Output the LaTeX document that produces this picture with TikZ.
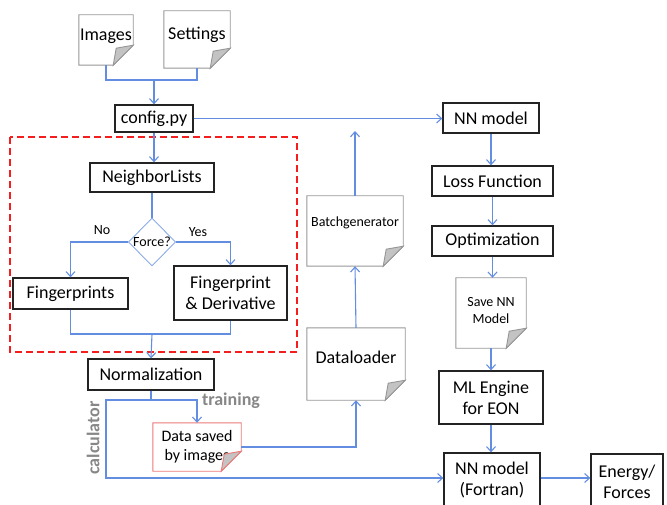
\documentclass[tikz,border=0pt]{standalone}
\usepackage{fontspec}
\setmainfont{Carlito}
\usetikzlibrary{arrows.meta,shapes.geometric}
\definecolor{flowblue}{RGB}{98,141,224}
\definecolor{diamondblue}{RGB}{140,170,232}
\definecolor{boxline}{RGB}{35,35,35}
\definecolor{docgray}{RGB}{150,150,150}
\definecolor{flapgray}{RGB}{195,195,195}
\definecolor{datared}{RGB}{236,120,120}
\definecolor{dashred}{RGB}{245,30,30}
\definecolor{labelgray}{RGB}{135,135,135}
\tikzset{
  box/.style={draw=boxline, line width=1.3pt, fill=white, inner sep=0pt, align=center, font=\fontsize{18}{21}\selectfont},
  doc/.style={inner sep=0pt, align=center, font=\fontsize{18}{21}\selectfont},
  flow/.style={draw=flowblue, line width=1.1pt},
  flowarrow/.style={flow, -{Straight Barb[length=5pt,width=9pt]}},
  graylabel/.style={text=labelgray, font=\fontsize{18}{20}\selectfont\bfseries},
  smalltext/.style={font=\fontsize{14}{17}\selectfont}
}
\def\fold{20pt}
\newcommand\docoutline[2][docgray]{%
  \draw[#1, line width=0.9pt] (#2.north west) -- (#2.north east) -- ([yshift=\fold]#2.south east) -- ([xshift=-\fold]#2.south east) -- (#2.south west) -- cycle;
  \draw[#1, line width=0.9pt, fill=flapgray] ([yshift=\fold]#2.south east) -- ([shift={(-17pt,17pt)}]#2.south east) -- ([xshift=-\fold]#2.south east) -- cycle;}

\begin{document}
\begin{tikzpicture}[x=1pt, y=-1pt]
			%%%%% START %%%%%
			\useasboundingbox (0,0) rectangle (667,505);
			\clip (0,0) rectangle (667,505);
			
			% inputs
			\node[doc, minimum width=54pt, minimum height=50pt, text depth=10pt] (img) at (106,40) {Images};
			\node[doc, minimum width=66pt, minimum height=57pt, text depth=13pt] (set) at (197,39.5) {Settings};
			\docoutline{img}
			\docoutline{set}
			\node[box, minimum width=78pt, minimum height=27pt] (cfg) at (154,118.5) {config.py};
			
			% fingerprinting block
			\draw[dashred, line width=1.9pt, dash pattern=on 7pt off 4pt] (10,137) rectangle (297,352);
			\node[box, minimum width=124pt, minimum height=29pt] (nl) at (152,177.5) {NeighborLists};
			\node[diamond, aspect=1, draw=diamondblue, line width=0.9pt, inner sep=0pt, minimum width=47pt, minimum height=48pt, fill=white, font=\fontsize{14}{16}\selectfont] (force) at (152,242) {Force?};
			\node[box, minimum width=115pt, minimum height=31pt] (fp) at (70.5,293.5) {Fingerprints};
			\node[box, minimum width=113pt, minimum height=54pt] (fpd) at (230.5,293) {Fingerprint\\\& Derivative};
			\node[box, minimum width=126pt, minimum height=31pt] (norm) at (151,374.5) {Normalization};
			
			% data handling
			\node[doc, minimum width=88pt, minimum height=48pt, font=\fontsize{16}{19}\selectfont] (data) at (197,447) {Data saved\\by images};
			\docoutline[datared]{data}
			\node[doc, minimum width=98pt, minimum height=72pt, text depth=13pt] (dl) at (356,364) {Dataloader};
			\docoutline{dl}
			\node[doc, smalltext, minimum width=96pt, minimum height=70pt, text depth=18pt] (bg) at (355,231) {Batchgenerator};
			\docoutline{bg}
			
			% training chain
			\node[box, minimum width=96pt, minimum height=30pt] (nn) at (491,118) {NN model};
			\node[box, minimum width=121pt, minimum height=30pt] (loss) at (492.5,181) {Loss Function};
			\node[box, minimum width=121pt, minimum height=30pt] (opt) at (492.5,241) {Optimization};
			\node[doc, smalltext, minimum width=70pt, minimum height=70pt, text depth=6pt] (save) at (491,313) {Save NN\\Model};
			\docoutline{save}
			\node[box, minimum width=104pt, minimum height=53pt] (ml) at (491,397.5) {ML Engine\\for EON};
			\node[box, minimum width=96pt, minimum height=54pt] (fort) at (492,480) {NN model\\(Fortran)};
			\node[box, minimum width=72pt, minimum height=56pt] (ef) at (627,482) {Energy/\\Forces};
			
			% connectors
			\coordinate (injoin) at (154,80);
			\draw[flow] (img.south) |- (injoin) -| (set.south);
			\draw[flowarrow] (injoin) -- (cfg.north);
			\draw[flowarrow] (cfg.east) -- (cfg.east -| nn.west);
			\draw[flowarrow] (cfg.south) -- (cfg.south |- nl.north);
			\draw[flow] (nl.south) -- (force.north);
			\draw[flowarrow] (force.west) -| (fp.north);
			\draw[flowarrow] (force.east) -| (fpd.north);
			\node[smalltext] (no) at (102,230) {No};
			\node[smalltext] (yes) at (198,232) {Yes};
			\coordinate (fpjoin) at (152,334);
			\draw[flow] (fp.south) |- (fpjoin) -| (fpd.south);
			\draw[flowarrow] (fpjoin) -- (norm.north);
			
			\coordinate (split) at (151,400);
			\coordinate (calcbend) at (106,400);
			\draw[flowarrow] (norm.south) -- (split) -| (data.north);
			\draw[flowarrow] (split) -- (calcbend) |- ([yshift=2pt]fort.west);
			\node[graylabel] (training) at (231,401) {training};
			\node[graylabel, rotate=90] (calc) at (93,438) {calculator};
			
			\draw[flowarrow] (data.east) -| (dl.south);
			\draw[flowarrow] (dl.north) -- (bg.south);
			\coordinate (bgtop) at (355,131);
			\draw[flowarrow] (bg.north) -- (bgtop);
			
			\draw[flowarrow] (nn.south) -- (nn.south |- loss.north);
			\draw[flowarrow] (loss.south) -- (opt.north);
			\draw[flowarrow] (opt.south) -- (opt.south |- save.north);
			\draw[flowarrow] (save.south) -- (save.south |- ml.north);
			\draw[flowarrow] (ml.south) -- (ml.south |- fort.north);
			\draw[flowarrow] ([yshift=2pt]fort.east) -- ([yshift=2pt]fort.east -| ef.west);
			
			%%%%% END %%%%%
\end{tikzpicture}
\end{document}
